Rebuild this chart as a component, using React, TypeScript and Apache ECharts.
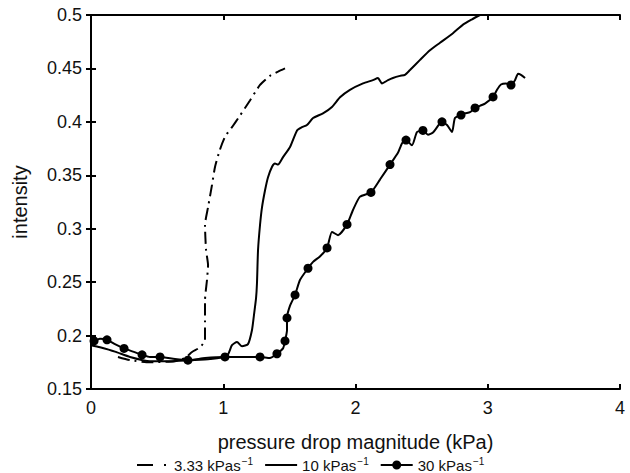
import React, { useEffect, useRef } from "react";
import * as echarts from "echarts";

// 3.33 kPa/s series (dashed)
const s333X = [0.204, 0.295, 0.446, 0.635, 0.711, 0.764, 0.824, 0.862, 0.862, 0.862, 0.877, 0.885, 0.870, 0.862, 0.885, 0.915, 0.938, 0.975, 1.013, 1.066, 1.127, 1.202, 1.278, 1.353, 1.414, 1.467];
const s333Y = [0.180, 0.177, 0.175, 0.176, 0.179, 0.1846, 0.189, 0.196, 0.2146, 0.233, 0.252, 0.266, 0.280, 0.3035, 0.320, 0.341, 0.358, 0.374, 0.386, 0.395, 0.406, 0.420, 0.4345, 0.443, 0.447, 0.450];

// 10 kPa/s series (solid)
const s10X = [0, 0.068, 0.181, 0.295, 0.446, 0.597, 0.749, 0.900, 1.028, 1.066, 1.104, 1.142, 1.187, 1.217, 1.232, 1.248, 1.255, 1.263, 1.278, 1.293, 1.316, 1.338, 1.369, 1.391, 1.414, 1.452, 1.505, 1.558, 1.595, 1.633, 1.679, 1.754, 1.822, 1.883, 1.958, 2.057, 2.132, 2.170, 2.200, 2.246, 2.283, 2.336, 2.374, 2.412, 2.488, 2.563, 2.639, 2.737, 2.813, 2.881, 2.941];
const s10Y = [0.191, 0.189, 0.185, 0.180, 0.176, 0.176, 0.177, 0.178, 0.181, 0.191, 0.194, 0.190, 0.192, 0.205, 0.219, 0.235, 0.249, 0.280, 0.3035, 0.320, 0.336, 0.348, 0.358, 0.361, 0.360, 0.367, 0.3765, 0.392, 0.395, 0.397, 0.4036, 0.408, 0.414, 0.423, 0.430, 0.436, 0.439, 0.441, 0.436, 0.439, 0.441, 0.443, 0.444, 0.4485, 0.458, 0.467, 0.474, 0.483, 0.491, 0.496, 0.500];

// 30 kPa/s series (solid with markers); marker flag 1 = draw dot
const s30X = [0, 0.023, 0.068, 0.121, 0.181, 0.250, 0.318, 0.386, 0.446, 0.522, 0.635, 0.733, 0.862, 1.013, 1.127, 1.278, 1.353, 1.406, 1.452, 1.467, 1.482, 1.482, 1.505, 1.543, 1.580, 1.641, 1.679, 1.731, 1.785, 1.822, 1.868, 1.936, 1.981, 2.034, 2.117, 2.185, 2.261, 2.321, 2.352, 2.382, 2.427, 2.465, 2.510, 2.548, 2.586, 2.654, 2.692, 2.730, 2.752, 2.798, 2.828, 2.866, 2.904, 2.941, 2.979, 3.040, 3.070, 3.100, 3.138, 3.176, 3.206, 3.229, 3.251, 3.282];
const s30Y = [0.196, 0.195, 0.197, 0.196, 0.192, 0.188, 0.185, 0.182, 0.180, 0.180, 0.178, 0.177, 0.179, 0.180, 0.180, 0.180, 0.179, 0.183, 0.188, 0.195, 0.205, 0.2165, 0.228, 0.238, 0.252, 0.263, 0.269, 0.274, 0.282, 0.297, 0.294, 0.304, 0.3175, 0.330, 0.334, 0.346, 0.360, 0.371, 0.380, 0.383, 0.378, 0.3905, 0.392, 0.388, 0.390, 0.400, 0.397, 0.3905, 0.4036, 0.4064, 0.408, 0.409, 0.413, 0.415, 0.417, 0.4233, 0.430, 0.435, 0.436, 0.4345, 0.439, 0.445, 0.444, 0.441];
const s30M = [0, 1, 0, 1, 0, 1, 0, 1, 0, 1, 0, 1, 0, 1, 0, 1, 0, 1, 0, 1, 0, 1, 0, 1, 0, 1, 0, 0, 1, 0, 0, 1, 0, 0, 1, 0, 1, 0, 0, 1, 0, 0, 1, 0, 0, 1, 0, 0, 0, 1, 0, 0, 1, 0, 0, 1, 0, 0, 0, 1, 0, 0, 0, 0];

const seriesNames = ["3.33", "10", "30"];
const xTicks = { min: 0, max: 4, interval: 1 };
const yTicks = { min: 0.15, max: 0.5, interval: 0.05 };

const FONT = "'Liberation Sans', Arial, Helvetica, sans-serif";

const ICON_DASH = "path://M0,0M32,10M0,4h16v2h-16zM27,4h2v2h-2z";
const ICON_LINE = "path://M0,0M32,10M0,4h32v2h-32z";
const ICON_DOT = "path://M0,0M32,10M0,4h32v2h-32zM20.5,5a4.5,4.5 0 1,1 -9,0a4.5,4.5 0 1,1 9,0z";

export default function App() {
  const ref = useRef<HTMLDivElement>(null);
  useEffect(() => {
    if (!ref.current) return;
    const chart = echarts.init(ref.current, undefined, { renderer: "svg" });
    const pairs = (xs: number[], ys: number[]) => xs.map((x, i) => [x, ys[i]]);
    const d30 = s30X.map((x, i) =>
      s30M[i]
        ? { value: [x, s30Y[i]], symbol: "circle", symbolSize: 9 }
        : { value: [x, s30Y[i]], symbol: "none" }
    );
    const axisLine = { show: true, lineStyle: { color: "#000", width: 2 } };
    const tick = { show: true, inside: true, length: 5, lineStyle: { color: "#000", width: 2 } };
    const label = { color: "#111", fontSize: 18, fontFamily: FONT };
    chart.setOption({
      animation: false,
      backgroundColor: "#fff",
      textStyle: { fontFamily: FONT },
      grid: { left: 91, right: 10, top: 15, bottom: 84, containLabel: false },
      legend: {
        top: 451,
        left: 132,
        itemWidth: 32,
        itemHeight: 10,
        itemGap: 12,
        symbolKeepAspect: false,
        data: [
          { name: seriesNames[0], icon: ICON_DASH, itemStyle: { color: "#000", borderWidth: 0 } },
          { name: seriesNames[1], icon: ICON_LINE, itemStyle: { color: "#000", borderWidth: 0 } },
          { name: seriesNames[2], icon: ICON_DOT, itemStyle: { color: "#000", borderWidth: 0 } },
        ],
        formatter: (n: string) => `{a|${n} kPas}{s|−1}`,
        textStyle: {
          color: "#111",
          fontFamily: FONT,
          rich: {
            a: { fontSize: 15, fontFamily: FONT, color: "#111", lineHeight: 18 },
            s: { fontSize: 10, fontFamily: FONT, color: "#111", verticalAlign: "top", lineHeight: 18, padding: [0, 0, 6, 1] },
          },
        },
      },
      xAxis: [
        {
          type: "value",
          position: "bottom",
          ...xTicks,
          axisLine,
          axisTick: tick,
          splitLine: { show: false },
          axisLabel: { ...label, margin: 10 },
          name: "pressure drop magnitude (kPa)",
          nameLocation: "middle",
          nameGap: 43,
          nameTextStyle: { color: "#111", fontSize: 20, fontFamily: FONT },
        },
        {
          type: "value",
          position: "top",
          ...xTicks,
          axisLine,
          axisTick: tick,
          splitLine: { show: false },
          axisLabel: { show: false },
        },
      ],
      yAxis: [
        {
          type: "value",
          position: "left",
          ...yTicks,
          axisLine,
          axisTick: tick,
          splitLine: { show: false },
          axisLabel: { ...label, margin: 9, formatter: (v: number) => String(+v.toFixed(2)) },
          name: "intensity",
          nameLocation: "middle",
          nameGap: 61,
          nameTextStyle: { color: "#111", fontSize: 20, fontFamily: FONT },
        },
        {
          type: "value",
          position: "right",
          ...yTicks,
          axisLine,
          axisTick: tick,
          splitLine: { show: false },
          axisLabel: { show: false },
        },
      ],
      series: [
        {
          name: seriesNames[0],
          type: "line",
          symbol: "none",
          data: pairs(s333X, s333Y),
          lineStyle: { color: "#000", width: 2, type: [12, 5, 2, 5] },
          itemStyle: { color: "#000" },
          smooth: 0.2,
        },
        {
          name: seriesNames[1],
          type: "line",
          symbol: "none",
          data: pairs(s10X, s10Y),
          lineStyle: { color: "#000", width: 2 },
          itemStyle: { color: "#000" },
          smooth: 0.2,
        },
        {
          name: seriesNames[2],
          type: "line",
          symbol: "circle",
          symbolSize: 9,
          showAllSymbol: true,
          data: d30,
          lineStyle: { color: "#000", width: 2 },
          itemStyle: { color: "#000" },
          smooth: 0.2,
        },
      ],
    });
    return () => chart.dispose();
  }, []);
  return (
    <div
      ref={ref}
      style={{ position: "fixed", left: 0, top: 0, width: 630, height: 473, background: "#fff" }}
    />
  );
}
